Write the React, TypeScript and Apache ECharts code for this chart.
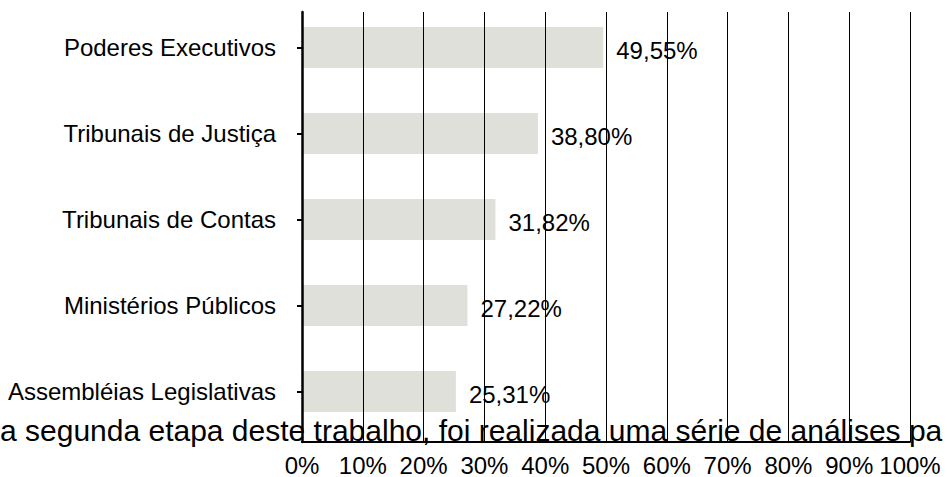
import React, { useEffect, useRef } from "react";
import * as echarts from "echarts";

const categories = [
  "Poderes Executivos",
  "Tribunais de Justiça",
  "Tribunais de Contas",
  "Ministérios Públicos",
  "Assembléias Legislativas",
];
const values = [49.55, 38.8, 31.82, 27.22, 25.31];
const valueLabels = ["49,55%", "38,80%", "31,82%", "27,22%", "25,31%"];
const axisMin = 0;
const axisMax = 100;
const axisStep = 10;
const overlayText =
  "a segunda etapa deste trabalho, foi realizada uma série de análises pa";

const FONT = '"Liberation Sans", Arial, Helvetica, sans-serif';

export default function App() {
  const ref = useRef<HTMLDivElement>(null);
  useEffect(() => {
    if (!ref.current) return;
    const chart = echarts.init(ref.current, null, { renderer: "svg" });
    chart.setOption({
      animation: false,
      backgroundColor: "#ffffff",
      textStyle: { fontFamily: FONT },
      grid: [
        { left: 302, top: 12, width: 608, height: 432 },
        { left: 302, top: 4.5, width: 608, height: 430 },
      ],
      xAxis: [
        {
          gridIndex: 0,
          type: "value",
          min: axisMin,
          max: axisMax,
          interval: axisStep,
          axisLine: { show: true, lineStyle: { color: "#000", width: 2 } },
          axisTick: { show: false },
          splitLine: {
            show: true,
            showMinLine: false,
            lineStyle: { color: "#000", width: 1 },
          },
          axisLabel: {
            formatter: "{value}%",
            fontSize: 24,
            color: "#000",
            margin: 11,
            fontFamily: FONT,
          },
          z: 5,
        },
        { gridIndex: 1, type: "value", min: axisMin, max: axisMax, show: false },
      ],
      yAxis: [
        {
          gridIndex: 0,
          type: "value",
          min: 0,
          max: 1,
          axisLine: { show: true, lineStyle: { color: "#000", width: 2.5 } },
          axisTick: { show: false },
          axisLabel: { show: false },
          splitLine: { show: false },
          z: 6,
        },
        {
          gridIndex: 1,
          type: "category",
          data: categories,
          inverse: true,
          axisLine: { show: true, lineStyle: { color: "rgba(0,0,0,0)", width: 0 } },
          axisTick: {
            show: true,
            alignWithLabel: true,
            length: 5,
            lineStyle: { color: "#000", width: 2 },
          },
          axisLabel: { fontSize: 24, color: "#000", margin: 26, fontFamily: FONT },
          splitLine: { show: false },
          z: 6,
        },
      ],
      series: [
        {
          type: "bar",
          xAxisIndex: 1,
          yAxisIndex: 1,
          data: values,
          barWidth: 41,
          itemStyle: { color: "#e0e0da" },
          label: {
            show: true,
            position: "right",
            distance: 13,
            offset: [0, 2.5],
            fontSize: 24,
            color: "#000",
            fontFamily: FONT,
            formatter: (p: any) => valueLabels[p.dataIndex],
          },
        },
      ],
      graphic: [
        {
          type: "text",
          x: 0,
          y: 430.5,
          z: 100,
          style: {
            text: overlayText,
            fontSize: 30,
            fontFamily: FONT,
            fill: "#000",
            align: "left",
            verticalAlign: "middle",
          },
        },
      ],
    });
    return () => chart.dispose();
  }, []);
  return (
    <div
      ref={ref}
      style={{
        position: "fixed",
        left: 0,
        top: 0,
        width: 947,
        height: 477,
        background: "#fff",
      }}
    />
  );
}
